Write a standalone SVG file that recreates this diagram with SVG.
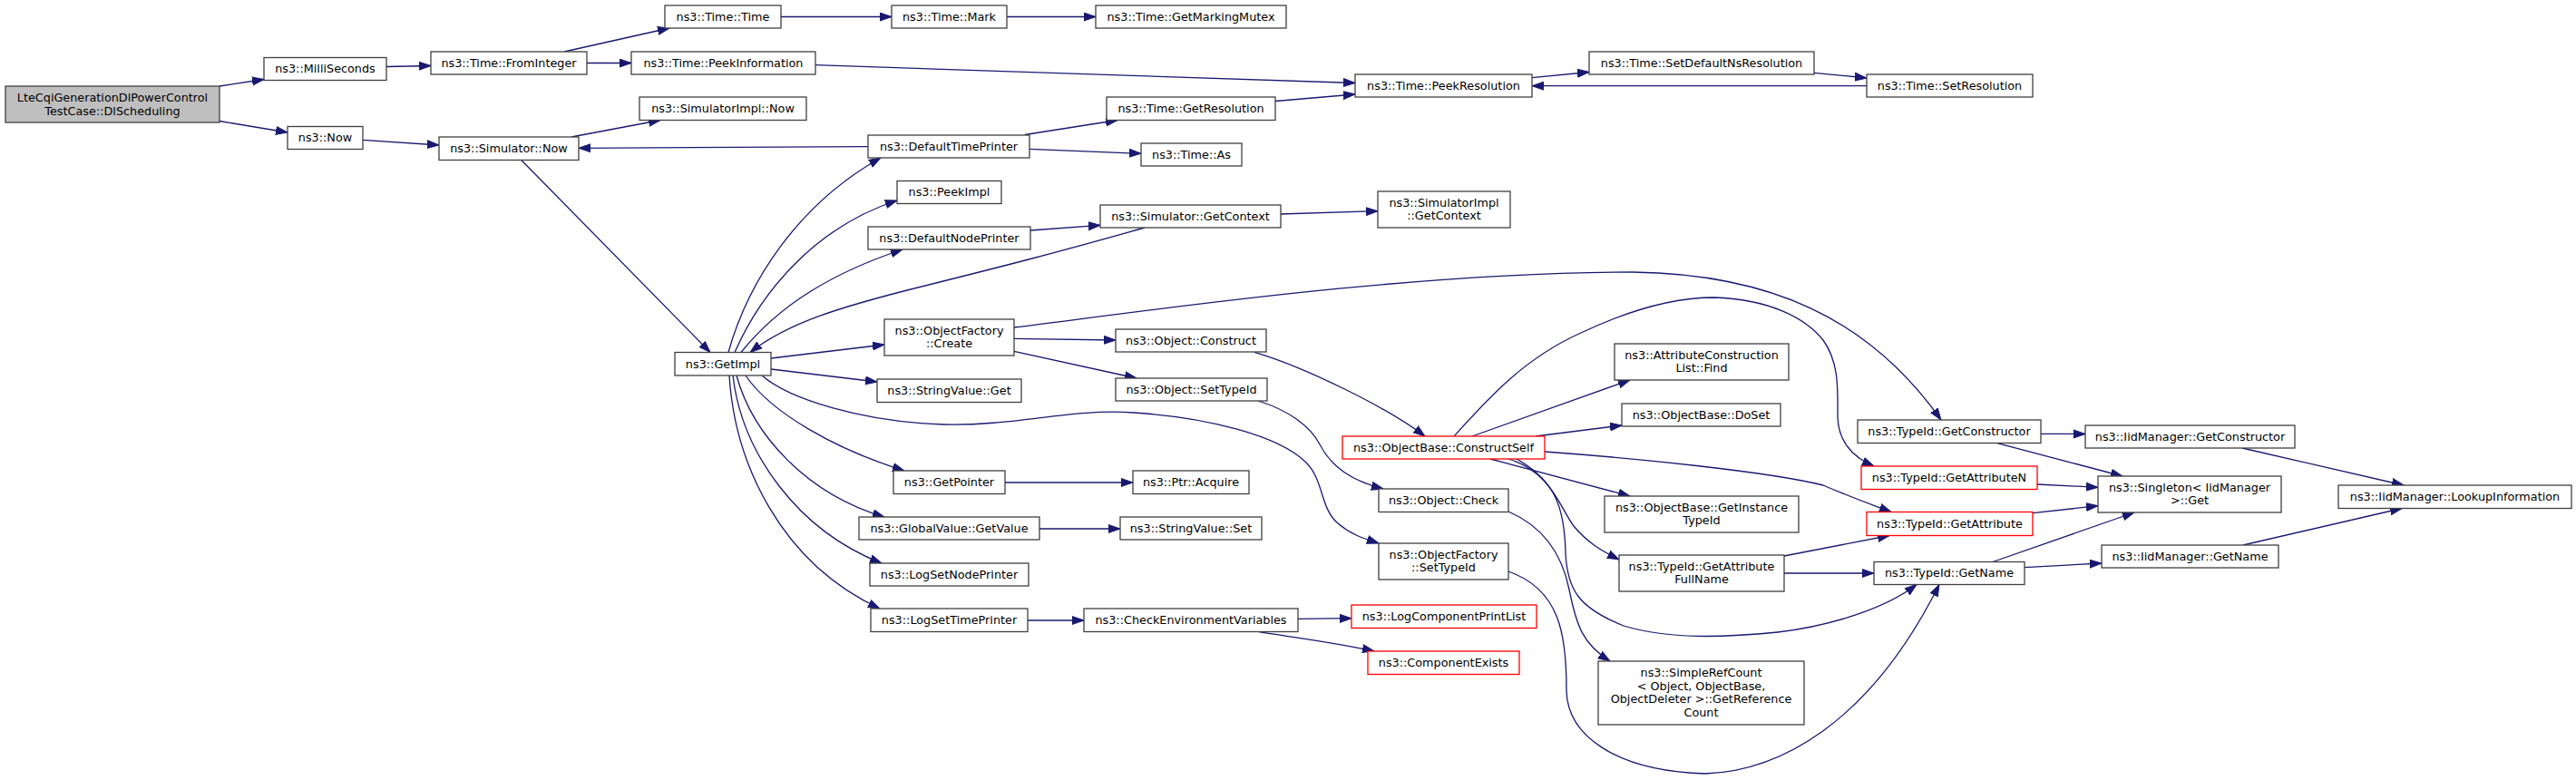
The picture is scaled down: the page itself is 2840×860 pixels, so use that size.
<svg xmlns="http://www.w3.org/2000/svg" width="2840" height="860" viewBox="0 0 2840 860">
<style>
.node rect{fill:#ffffff;stroke:#404040;stroke-width:1.3}
.node.red rect{stroke:#ff0000}
.node.main rect{fill:#bfbfbf}
.node text{font-family:"DejaVu Sans","Liberation Sans",sans-serif;font-size:12.8px;text-anchor:middle;fill:#000000}
.edges path{fill:none;stroke:#191970;stroke-width:1.3;marker-end:url(#arr)}
</style>
<defs>
<marker id="arr" markerUnits="userSpaceOnUse" markerWidth="15" markerHeight="11" refX="13" refY="5" orient="auto" viewBox="0 0 15 11">
<path d="M0,0.5 L13,5 L0,9.5 z" fill="#191970" stroke="#191970" stroke-width="1"/>
</marker>
</defs>
<rect x="0" y="0" width="2840" height="860" fill="#ffffff"/>
<g id="edges" class="edges">
<path d="M242,95 L291,87.5"/>
<path d="M242,133.5 L317,146"/>
<path d="M426,73.5 L475,72.5"/>
<path d="M622,57 L738,31"/>
<path d="M647,69.5 L696,69.5"/>
<path d="M861,18.5 L983,18.5"/>
<path d="M1110,18.5 L1208,18.5"/>
<path d="M899,71.7 L1494,91.5"/>
<path d="M1406,111.5 L1494,104"/>
<path d="M1689,85.7 L1752,79.5"/>
<path d="M2000,80.3 L2058,86"/>
<path d="M2058,94.7 L1689,94.7"/>
<path d="M400,154.3 L484,160"/>
<path d="M630,151 L728,132.5"/>
<path d="M575,176.7 L783,388.5"/>
<path d="M957,161.7 L638,163.3"/>
<path d="M1130,148.5 L1232,132.5"/>
<path d="M1135,164.3 L1258,169.3"/>
<path d="M803,388.5 C825,310 880,225 971,174"/>
<path d="M810,388.5 C840,320 900,250 989,221"/>
<path d="M817,388.5 C860,335 920,300 995,275"/>
<path d="M1136,254 L1213,248.3"/>
<path d="M1262,251 C1160,280 1100,295 1000,320 C930,338 870,355 827,388.5"/>
<path d="M1412,236 L1519,232.7"/>
<path d="M850,395 L975,380"/>
<path d="M1118,361 C1250,345 1550,300 1800,300 C1950,302 2060,350 2140,463"/>
<path d="M1118,373.3 L1230,375"/>
<path d="M1118,387.3 L1253,417"/>
<path d="M850,407 L967,421"/>
<path d="M840,414 C870,440 950,465 1040,468 C1120,470 1180,450 1250,455 C1330,460 1410,480 1440,510 C1460,530 1455,560 1475,577 C1490,590 1505,594 1520,599"/>
<path d="M822,414 C850,455 920,495 997,519"/>
<path d="M812,414 C830,480 890,545 975,570"/>
<path d="M808,414 C818,500 880,585 972,621"/>
<path d="M804,414 C810,510 860,620 970,671"/>
<path d="M1108,532 L1249,532"/>
<path d="M1146,583 L1235,583"/>
<path d="M1133,684 L1195,684"/>
<path d="M1431,682.3 L1490,681.7"/>
<path d="M1388,696.7 C1420,702 1470,708 1515,718"/>
<path d="M1383,388.3 C1440,405 1530,450 1571,481"/>
<path d="M1387,442 C1420,452 1445,470 1455,490 C1468,515 1490,530 1525,539"/>
<path d="M1623,481 L1797,419"/>
<path d="M1693,481 L1788,469"/>
<path d="M1603,481 C1640,440 1680,395 1743,367 C1800,340 1850,328 1890,328 C1950,330 1990,350 2010,375 C2028,400 2026,430 2026,460 C2027,490 2045,505 2066,514"/>
<path d="M1703,498 C1800,505 1950,520 2010,535 C2040,548 2060,555 2085,564.5"/>
<path d="M1643,506 L1797,547"/>
<path d="M1663,506 C1710,520 1720,560 1735,580 C1750,598 1765,607 1785,617"/>
<path d="M1672,506 C1715,530 1725,560 1726,610 C1728,650 1740,670 1790,690 C1840,705 1900,703 1960,697 C2020,690 2080,670 2113,644.5"/>
<path d="M1663,564 C1700,580 1722,610 1730,650 C1738,690 1745,710 1775,729"/>
<path d="M1663,630 C1720,650 1727,700 1727,760 C1727,810 1780,850 1880,853 C1960,850 2060,800 2138,644.5"/>
<path d="M1967,613 L2083,590.5"/>
<path d="M1967,632 L2066,632"/>
<path d="M2250,478.3 L2299,478.5"/>
<path d="M2202,488.7 L2340,525"/>
<path d="M2246,534 L2313,537.3"/>
<path d="M2241,565.7 L2313,557.7"/>
<path d="M2197,619.5 L2353,565"/>
<path d="M2232,625.7 L2317,621"/>
<path d="M2472,494 L2650,535"/>
<path d="M2473,601 L2648,560.5"/>
</g>
<g id="n0" class="node main"><rect x="6" y="95" width="236" height="40"/><text x="124" y="112">LteCqiGenerationDlPowerControl</text><text x="124" y="126.5">TestCase::DlScheduling</text></g>
<g id="n1" class="node"><rect x="291" y="63.5" width="135" height="25"/><text x="358.5" y="80.2">ns3::MilliSeconds</text></g>
<g id="n2" class="node"><rect x="317" y="139.5" width="83" height="25"/><text x="358.5" y="156.2">ns3::Now</text></g>
<g id="n3" class="node"><rect x="475" y="57" width="172" height="25"/><text x="561" y="73.7">ns3::Time::FromInteger</text></g>
<g id="n4" class="node"><rect x="733" y="6" width="128" height="25"/><text x="797" y="22.7">ns3::Time::Time</text></g>
<g id="n5" class="node"><rect x="696" y="57" width="203" height="25"/><text x="797.5" y="73.7">ns3::Time::PeekInformation</text></g>
<g id="n6" class="node"><rect x="705" y="107" width="184" height="25.5"/><text x="797" y="124">ns3::SimulatorImpl::Now</text></g>
<g id="n7" class="node"><rect x="484" y="151" width="154" height="25.5"/><text x="561" y="168">ns3::Simulator::Now</text></g>
<g id="n8" class="node"><rect x="744" y="388.5" width="106" height="25.5"/><text x="797" y="405.5">ns3::GetImpl</text></g>
<g id="n9" class="node"><rect x="983" y="6" width="127" height="25"/><text x="1046.5" y="22.7">ns3::Time::Mark</text></g>
<g id="n10" class="node"><rect x="1208" y="6" width="210" height="25"/><text x="1313" y="22.7">ns3::Time::GetMarkingMutex</text></g>
<g id="n11" class="node"><rect x="1220" y="107" width="186" height="25.5"/><text x="1313" y="124">ns3::Time::GetResolution</text></g>
<g id="n12" class="node"><rect x="957" y="149" width="178" height="25"/><text x="1046" y="165.7">ns3::DefaultTimePrinter</text></g>
<g id="n13" class="node"><rect x="1258" y="158" width="111" height="25"/><text x="1313.5" y="174.7">ns3::Time::As</text></g>
<g id="n14" class="node"><rect x="989" y="199.5" width="115" height="25"/><text x="1046.5" y="216.2">ns3::PeekImpl</text></g>
<g id="n15" class="node"><rect x="1213" y="226" width="199" height="25"/><text x="1312.5" y="242.7">ns3::Simulator::GetContext</text></g>
<g id="n16" class="node"><rect x="957" y="250" width="179" height="25"/><text x="1046.5" y="266.7">ns3::DefaultNodePrinter</text></g>
<g id="n17" class="node"><rect x="975" y="352" width="143" height="40"/><text x="1046.5" y="368.8">ns3::ObjectFactory</text><text x="1046.5" y="383.3">::Create</text></g>
<g id="n18" class="node"><rect x="1230" y="363" width="166" height="25"/><text x="1313" y="379.7">ns3::Object::Construct</text></g>
<g id="n19" class="node"><rect x="967" y="418" width="159" height="25.5"/><text x="1046.5" y="435">ns3::StringValue::Get</text></g>
<g id="n20" class="node"><rect x="1230" y="417" width="167" height="25"/><text x="1313.5" y="433.7">ns3::Object::SetTypeId</text></g>
<g id="n21" class="node"><rect x="1494" y="82" width="195" height="25"/><text x="1591.5" y="98.7">ns3::Time::PeekResolution</text></g>
<g id="n22" class="node"><rect x="1752" y="57" width="248" height="25"/><text x="1876" y="73.7">ns3::Time::SetDefaultNsResolution</text></g>
<g id="n23" class="node"><rect x="2058" y="82" width="183" height="25"/><text x="2149.5" y="98.7">ns3::Time::SetResolution</text></g>
<g id="n24" class="node"><rect x="1519" y="211" width="146" height="40"/><text x="1592" y="227.8">ns3::SimulatorImpl</text><text x="1592" y="242.3">::GetContext</text></g>
<g id="n25" class="node"><rect x="1780" y="379" width="192" height="40"/><text x="1876" y="395.8">ns3::AttributeConstruction</text><text x="1876" y="410.3">List::Find</text></g>
<g id="n26" class="node red"><rect x="1480" y="481" width="223" height="25"/><text x="1591.5" y="497.7">ns3::ObjectBase::ConstructSelf</text></g>
<g id="n27" class="node"><rect x="1788" y="445" width="175" height="25"/><text x="1875.5" y="461.7">ns3::ObjectBase::DoSet</text></g>
<g id="n28" class="node"><rect x="1520" y="539" width="143" height="25.5"/><text x="1591.5" y="556">ns3::Object::Check</text></g>
<g id="n29" class="node"><rect x="1769" y="547" width="214" height="40"/><text x="1876" y="563.8">ns3::ObjectBase::GetInstance</text><text x="1876" y="578.3">TypeId</text></g>
<g id="n30" class="node"><rect x="1520" y="599" width="143" height="40"/><text x="1591.5" y="615.8">ns3::ObjectFactory</text><text x="1591.5" y="630.3">::SetTypeId</text></g>
<g id="n31" class="node"><rect x="1785" y="612" width="182" height="40"/><text x="1876" y="628.8">ns3::TypeId::GetAttribute</text><text x="1876" y="643.3">FullName</text></g>
<g id="n32" class="node red"><rect x="1490" y="667" width="204" height="25.5"/><text x="1592" y="684">ns3::LogComponentPrintList</text></g>
<g id="n33" class="node red"><rect x="1508" y="718" width="167" height="25.5"/><text x="1591.5" y="735">ns3::ComponentExists</text></g>
<g id="n34" class="node"><rect x="1762" y="729" width="227" height="70"/><text x="1875.5" y="746.1">ns3::SimpleRefCount</text><text x="1875.5" y="760.7">&lt; Object, ObjectBase,</text><text x="1875.5" y="775.3">ObjectDeleter &gt;::GetReference</text><text x="1875.5" y="789.9">Count</text></g>
<g id="n35" class="node"><rect x="985" y="519" width="123" height="25.5"/><text x="1046.5" y="536">ns3::GetPointer</text></g>
<g id="n36" class="node"><rect x="1249" y="519" width="128" height="25.5"/><text x="1313" y="536">ns3::Ptr::Acquire</text></g>
<g id="n37" class="node"><rect x="947" y="570" width="199" height="25"/><text x="1046.5" y="586.7">ns3::GlobalValue::GetValue</text></g>
<g id="n38" class="node"><rect x="1235" y="570" width="156" height="25"/><text x="1313" y="586.7">ns3::StringValue::Set</text></g>
<g id="n39" class="node"><rect x="959" y="621" width="175" height="25"/><text x="1046.5" y="637.7">ns3::LogSetNodePrinter</text></g>
<g id="n40" class="node"><rect x="960" y="671" width="173" height="25.5"/><text x="1046.5" y="688">ns3::LogSetTimePrinter</text></g>
<g id="n41" class="node"><rect x="1195" y="671" width="236" height="25.5"/><text x="1313" y="688">ns3::CheckEnvironmentVariables</text></g>
<g id="n42" class="node"><rect x="2048" y="463" width="202" height="25.5"/><text x="2149" y="480">ns3::TypeId::GetConstructor</text></g>
<g id="n43" class="node"><rect x="2299" y="469" width="231" height="25"/><text x="2414.5" y="485.7">ns3::IidManager::GetConstructor</text></g>
<g id="n44" class="node red"><rect x="2052" y="514" width="194" height="25.5"/><text x="2149" y="531">ns3::TypeId::GetAttributeN</text></g>
<g id="n45" class="node"><rect x="2313" y="525" width="202" height="40"/><text x="2414" y="541.8">ns3::Singleton&lt; IidManager</text><text x="2414" y="556.3">&gt;::Get</text></g>
<g id="n46" class="node red"><rect x="2058" y="564.5" width="183" height="26"/><text x="2149.5" y="581.7">ns3::TypeId::GetAttribute</text></g>
<g id="n47" class="node"><rect x="2066" y="619.5" width="166" height="25"/><text x="2149" y="636.2">ns3::TypeId::GetName</text></g>
<g id="n48" class="node"><rect x="2317" y="601" width="195" height="25"/><text x="2414.5" y="617.7">ns3::IidManager::GetName</text></g>
<g id="n49" class="node"><rect x="2578" y="535" width="257" height="25.5"/><text x="2706.5" y="552">ns3::IidManager::LookupInformation</text></g>
</svg>
